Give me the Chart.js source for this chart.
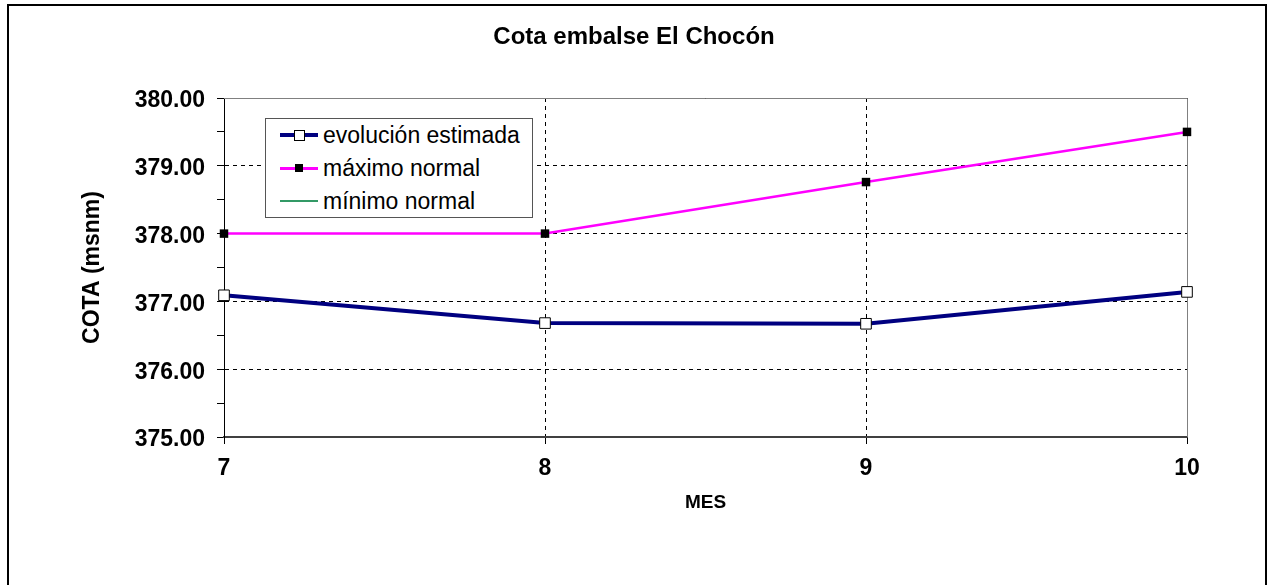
<!DOCTYPE html>
<html>
<head>
<meta charset="utf-8">
<script src="https://cdn.jsdelivr.net/npm/chart.js@4"></script>
<style>
  body { margin: 0; background: #fff; font-family: "Liberation Sans", Arial, sans-serif; }
  #marco { position: absolute; left: 7px; top: 4px; width: 1260px; height: 620px; border: 2px solid #000; box-sizing: border-box; }
  #lienzo { position: absolute; left: 0; top: 0; }
  #leyenda { position: absolute; left: 265px; top: 118px; width: 268px; height: 100px; border: 1px solid #555; box-sizing: border-box; background: #fff; }
  .fila { position: absolute; left: 14px; height: 30px; display: flex; align-items: center; font-size: 23px; color: #000; white-space: nowrap; }
  .muestra { position: relative; width: 38px; margin-right: 5px; }
  .muestra .linea { position: absolute; left: 0; width: 38px; }
  .muestra .marca { position: absolute; box-sizing: border-box; }
</style>
</head>
<body>
<div id="marco"></div>
<canvas id="lienzo" width="1268" height="585"></canvas>
<div id="leyenda"></div>
<script>
// ==================== DATOS ====================
const meses = [7, 8, 9, 10];
const evolucionEstimada = [377.09, 376.68, 376.67, 377.14];
const maximoNormal = [378.00, 378.00, 378.76, 379.50];
const minimoNormal = [null, null, null, null]; // queda fuera de escala (no se ve)
const nombresSeries = ['evolución estimada', 'máximo normal', 'mínimo normal'];
const coloresSeries = ['#000080', '#FF00FF', '#339966'];

const tituloGrafico = 'Cota embalse El Chocón';
const tituloEjeY = 'COTA (msnm)';
const tituloEjeX = 'MES';

const fuente = '"Liberation Sans", Arial, sans-serif';

function armarPuntos(valores) {
    return meses.map((m, i) => ({ x: m, y: valores[i] }));
}

// marco gris del area de trazado (arriba y derecha)
const pluginMarco = {
    id: 'marcoArea',
    beforeDatasetsDraw(chart) {
        const a = chart.chartArea;
        const ctx = chart.ctx;
        ctx.save();
        ctx.strokeStyle = '#808080';
        ctx.lineWidth = 1;
        ctx.beginPath();
        ctx.moveTo(a.left, a.top + 0.5);
        ctx.lineTo(a.right + 0.5, a.top + 0.5);
        ctx.lineTo(a.right + 0.5, a.bottom);
        ctx.stroke();
        ctx.restore();
    }
};

const ctx = document.getElementById('lienzo').getContext('2d');
const grafico = new Chart(ctx, {
    type: 'line',
    data: {
        datasets: [
            {
                label: nombresSeries[0],
                data: armarPuntos(evolucionEstimada),
                borderColor: coloresSeries[0],
                borderWidth: 4,
                pointStyle: 'rect',
                pointRadius: 7.5,
                pointBackgroundColor: '#fff',
                pointBorderColor: '#000',
                pointBorderWidth: 1,
                tension: 0,
                clip: false
            },
            {
                label: nombresSeries[1],
                data: armarPuntos(maximoNormal),
                borderColor: coloresSeries[1],
                borderWidth: 2.5,
                pointStyle: 'rect',
                pointRadius: 6,
                pointBackgroundColor: '#000',
                pointBorderColor: '#000',
                pointBorderWidth: 0,
                tension: 0,
                clip: false
            },
            {
                label: nombresSeries[2],
                data: armarPuntos(minimoNormal),
                borderColor: coloresSeries[2],
                borderWidth: 2,
                pointRadius: 0,
                tension: 0
            }
        ]
    },
    options: {
        responsive: false,
        animation: false,
        layout: { padding: 0 },
        plugins: {
            legend: { display: false },
            tooltip: { enabled: false },
            title: {
                display: true,
                text: tituloGrafico,
                color: '#000',
                font: { family: fuente, size: 24, weight: 'bold' },
                padding: { top: 22.6, bottom: 46.6 }
            }
        },
        scales: {
            x: {
                type: 'linear',
                min: 7,
                max: 10,
                afterFit(scale) { scale.height = 148; },
                ticks: {
                    stepSize: 1,
                    color: '#000',
                    padding: 11,
                    font: { family: fuente, size: 23, weight: 'bold' }
                },
                grid: {
                    color: '#000',
                    tickColor: '#000',
                    tickLength: 7
                },
                border: { color: '#404040', width: 2, dash: [4, 4] },
                title: {
                    display: true,
                    text: tituloEjeX,
                    color: '#000',
                    font: { family: fuente, size: 19, weight: 'bold' },
                    padding: { top: 0, bottom: 71 }
                }
            },
            y: {
                min: 375,
                max: 380,
                afterFit(scale) { scale.width = 224; },
                ticks: {
                    stepSize: 0.5,
                    color: '#000',
                    padding: 12,
                    labelOffset: 3,
                    font: { family: fuente, size: 23, weight: 'bold' },
                    callback: (v) => (v % 1 === 0 ? v.toFixed(2) : '')
                },
                grid: {
                    color: (c) => (c.tick && c.tick.value % 1 === 0 ? '#000' : 'rgba(0,0,0,0)'),
                    tickColor: '#000',
                    tickLength: 7
                },
                border: { color: '#000', width: 1, dash: [4, 4] },
                title: {
                    display: true,
                    text: tituloEjeY,
                    color: '#000',
                    font: { family: fuente, size: 23, weight: 'bold' },
                    padding: { top: 79, bottom: 0 }
                }
            },
            // eje invisible solo para reservar el margen derecho
            derecha: {
                type: 'linear',
                position: 'right',
                display: true,
                afterFit(scale) { scale.width = 81; },
                ticks: { display: false },
                grid: { display: false, drawTicks: false },
                border: { display: false }
            }
        }
    },
    plugins: [pluginMarco]
});

// ==================== LEYENDA ====================
function armarLeyenda() {
    const cont = document.getElementById('leyenda');
    const estilos = [
        { alto: 4, marca: { lado: 11, fondo: '#fff', borde: '#000' } },
        { alto: 3, marca: { lado: 8, fondo: '#000', borde: '#000' } },
        { alto: 2, marca: null }
    ];
    let html = '';
    for (let i = 0; i < nombresSeries.length; i++) {
        const e = estilos[i];
        html += `<div class="fila" style="top:${i * 33 + 1}px">`;
        html += '<div class="muestra" style="height:30px">';
        html += `<div class="linea" style="top:${15 - e.alto / 2}px;height:${e.alto}px;background:${coloresSeries[i]}"></div>`;
        if (e.marca) {
            const m = e.marca;
            html += `<div class="marca" style="left:${19 - m.lado / 2}px;top:${15 - m.lado / 2}px;width:${m.lado}px;height:${m.lado}px;background:${m.fondo};border:1px solid ${m.borde}"></div>`;
        }
        html += '</div>';
        html += `<span>${nombresSeries[i]}</span>`;
        html += '</div>';
    }
    cont.innerHTML = html;
}
armarLeyenda();
</script>
</body>
</html>
